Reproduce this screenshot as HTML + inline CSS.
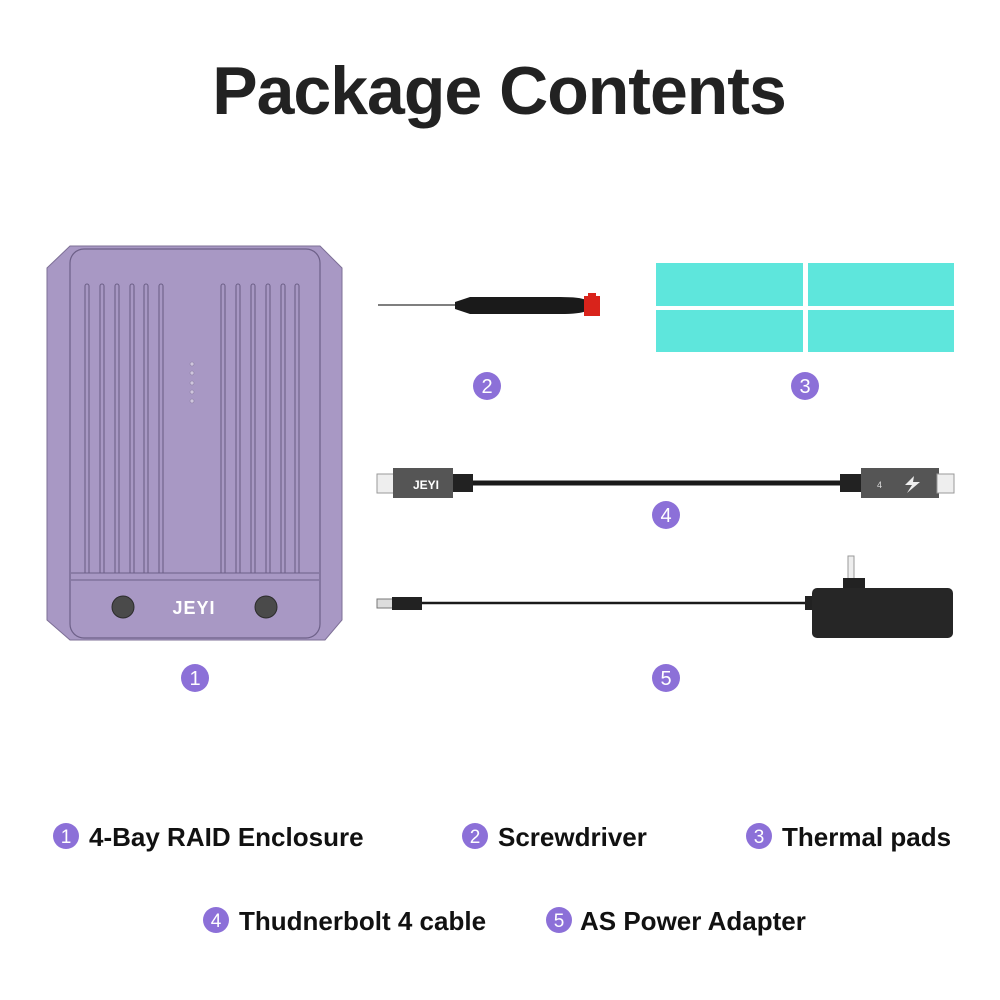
<!DOCTYPE html><html><head><style>body{margin:0;background:#fff}svg{display:block}</style></head><body>
<svg width="1000" height="1000" viewBox="0 0 1000 1000" xmlns="http://www.w3.org/2000/svg" font-family="Liberation Sans, Arial, sans-serif">
<text x="499" y="114" text-anchor="middle" font-size="68" font-weight="bold" fill="#222" letter-spacing="-1">Package Contents</text>
<!-- enclosure -->
<path d="M70 246 H320 L342 268 V620 L325 640 H70 L47 620 V268 Z" fill="#a898c4" stroke="#7d6f96" stroke-width="1"/>
<rect x="70" y="249" width="250" height="389" rx="14" fill="none" stroke="#6d6088" stroke-width="1.2"/>
<g stroke="#6d6088" stroke-width="1.1" fill="none">
<path d="M85 573V286a2 2 0 0 1 4 0V573M100 573V286a2 2 0 0 1 4 0V573M115 573V286a2 2 0 0 1 4 0V573M130 573V286a2 2 0 0 1 4 0V573M144 573V286a2 2 0 0 1 4 0V573M159 573V286a2 2 0 0 1 4 0V573"/>
<path d="M221 573V286a2 2 0 0 1 4 0V573M236 573V286a2 2 0 0 1 4 0V573M251 573V286a2 2 0 0 1 4 0V573M266 573V286a2 2 0 0 1 4 0V573M281 573V286a2 2 0 0 1 4 0V573M295 573V286a2 2 0 0 1 4 0V573"/>
<path d="M71 573H319M71 580H319"/>
</g>
<g fill="#cfc6dd" stroke="#877aa0" stroke-width=".6"><circle cx="192" cy="364" r="2"/><circle cx="192" cy="373" r="2"/><circle cx="192" cy="383" r="2"/><circle cx="192" cy="392" r="2"/><circle cx="192" cy="401" r="2"/></g>
<circle cx="123" cy="607" r="11" fill="#4a4a4a" stroke="#2c2c2c"/><circle cx="266" cy="607" r="11" fill="#4a4a4a" stroke="#2c2c2c"/>
<text x="194" y="614" text-anchor="middle" font-size="18" font-weight="bold" fill="#fff" letter-spacing="1">JEYI</text>
<!-- screwdriver -->
<line x1="378" y1="305" x2="456" y2="305" stroke="#555" stroke-width="1.5"/>
<path d="M455 302 L470 297 H560 Q580 297 586 300 V311 Q580 314 560 314 H470 L455 309Z" fill="#1a1a1a"/>
<path d="M584 296 H600 V316 H584Z" fill="#d9231b"/><rect x="588" y="293" width="8" height="4" fill="#d9231b"/>
<!-- pads -->
<g fill="#5ee6dc"><rect x="656" y="263" width="147" height="43"/><rect x="808" y="263" width="146" height="43"/><rect x="656" y="310" width="147" height="42"/><rect x="808" y="310" width="146" height="42"/></g>
<!-- TB cable -->
<line x1="470" y1="483" x2="850" y2="483" stroke="#1a1a1a" stroke-width="5"/>
<rect x="377" y="474" width="20" height="19" fill="#eee" stroke="#999"/><rect x="393" y="468" width="60" height="30" fill="#555"/><rect x="453" y="474" width="20" height="18" fill="#222"/>
<text x="426" y="489" text-anchor="middle" font-size="12" font-weight="bold" fill="#fff">JEYI</text>
<rect x="840" y="474" width="22" height="18" fill="#222"/><rect x="861" y="468" width="78" height="30" fill="#555"/><rect x="937" y="474" width="17" height="19" fill="#eee" stroke="#999"/>
<text x="877" y="488" font-size="9" fill="#ddd">4</text><path d="M914 476 L905 485 H912 L907 493 L920 482 H913 Z" fill="#eee"/>
<!-- power -->
<line x1="420" y1="603" x2="815" y2="603" stroke="#1a1a1a" stroke-width="2.5"/>
<rect x="377" y="599" width="16" height="9" fill="#ddd" stroke="#777"/><rect x="392" y="597" width="30" height="13" fill="#222"/>
<rect x="805" y="596" width="12" height="14" fill="#222"/>
<rect x="848" y="556" width="6" height="24" fill="#eee" stroke="#999"/><rect x="843" y="578" width="22" height="12" fill="#222"/>
<rect x="812" y="588" width="141" height="50" rx="5" fill="#262626"/>
<!-- numbered circles -->
<g fill="#8c70d8"><circle cx="195" cy="678" r="14"/><circle cx="487" cy="386" r="14"/><circle cx="805" cy="386" r="14"/><circle cx="666" cy="515" r="14"/><circle cx="666" cy="678" r="14"/>
<circle cx="66" cy="836" r="13"/><circle cx="475" cy="836" r="13"/><circle cx="759" cy="836" r="13"/><circle cx="216" cy="920" r="13"/><circle cx="559" cy="920" r="13"/></g>
<g fill="#fff" font-size="20" text-anchor="middle"><text x="195" y="685">1</text><text x="487" y="393">2</text><text x="805" y="393">3</text><text x="666" y="522">4</text><text x="666" y="685">5</text></g>
<g fill="#fff" font-size="19" text-anchor="middle"><text x="66" y="843">1</text><text x="475" y="843">2</text><text x="759" y="843">3</text><text x="216" y="927">4</text><text x="559" y="927">5</text></g>
<g fill="#111" font-size="26" font-weight="bold"><text x="89" y="846">4-Bay RAID Enclosure</text><text x="498" y="846">Screwdriver</text><text x="782" y="846">Thermal pads</text><text x="239" y="930">Thudnerbolt 4 cable</text><text x="580" y="930">AS Power Adapter</text></g>
</svg></body></html>
